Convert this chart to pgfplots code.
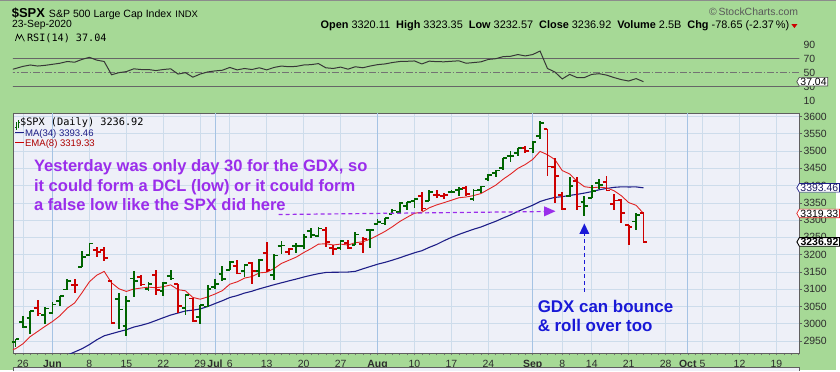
\documentclass[border=0pt]{standalone}
\usepackage{pgfplots}
\pgfplotsset{compat=1.18}
\usepackage{pgfplotstable}
\usepackage{fontspec}
\setmainfont{Liberation Sans}
\newfontfamily\legmono{DejaVu Sans Mono}
\usetikzlibrary{shapes.symbols,arrows.meta}
\usepgfplotslibrary{fillbetween}

\definecolor{bgGreen}{RGB}{166,217,150}
\definecolor{panelBg}{RGB}{238,240,248}
\definecolor{gridBlue}{RGB}{205,220,235}
\definecolor{gridMonth}{RGB}{165,195,228}
\definecolor{frameGray}{RGB}{95,95,95}
\definecolor{barGreen}{RGB}{0,100,0}
\definecolor{barRed}{RGB}{205,0,0}
\definecolor{emaRed}{RGB}{225,35,35}
\definecolor{maNavy}{RGB}{30,30,135}
\definecolor{txtPurple}{RGB}{155,45,235}
\definecolor{txtBlue}{RGB}{25,25,215}
\definecolor{rsiFill}{RGB}{163,192,158}
\definecolor{rsiLine}{RGB}{55,55,55}
\definecolor{labGray}{RGB}{45,45,45}

% day index: 0 = 26 May 2020 (trading days)
\pgfplotstableread{
d O H L C
-1 2948.05 2956.76 2933.59 2955.45
0 3004.08 3021.72 2988.17 2991.77
1 3015.65 3036.25 2969.75 3036.13
3 3025.17 3049.17 2998.61 3044.31
4 3031.79 3062.18 3031.54 3055.73
5 3064.78 3081.07 3051.64 3080.82
6 3098.90 3130.94 3098.90 3122.87
8 3163.84 3211.72 3163.84 3193.93
9 3199.92 3233.13 3196.00 3232.39
13 3071.04 3088.42 2984.47 3041.31
14 2993.76 3079.76 2965.66 3066.59
15 3131.00 3153.45 3076.06 3124.74
17 3101.64 3120.00 3093.51 3115.34
19 3094.42 3120.92 3079.39 3117.86
20 3138.70 3154.90 3127.12 3131.29
22 3046.60 3086.25 3024.01 3083.76
24 3018.59 3053.89 2999.74 3053.24
25 3050.20 3111.51 3047.83 3100.29
26 3105.92 3128.44 3101.17 3115.86
27 3143.64 3165.81 3124.52 3130.01
28 3155.29 3182.59 3155.29 3179.72
30 3153.07 3171.80 3136.53 3169.94
32 3152.47 3186.82 3136.22 3185.04
34 3141.11 3200.95 3127.66 3197.52
35 3225.98 3238.28 3200.76 3226.56
37 3224.21 3233.52 3205.65 3224.73
38 3224.29 3258.61 3215.16 3251.84
39 3268.52 3277.29 3247.77 3257.30
40 3254.86 3279.32 3253.10 3276.02
43 3219.84 3241.43 3214.25 3239.41
45 3227.22 3264.74 3227.22 3258.44
47 3270.45 3272.17 3220.26 3271.12
48 3288.26 3302.73 3284.53 3294.61
49 3289.92 3306.84 3286.37 3306.51
50 3317.37 3330.77 3317.37 3327.77
51 3323.17 3351.03 3318.14 3349.16
52 3340.05 3352.54 3328.72 3351.28
53 3356.04 3363.29 3335.44 3360.47
55 3355.46 3387.89 3355.46 3380.35
58 3380.86 3387.59 3379.22 3381.99
59 3387.04 3395.06 3370.15 3389.78
61 3360.48 3390.80 3354.69 3385.51
62 3386.01 3399.96 3379.31 3397.16
63 3418.09 3432.09 3413.13 3431.28
64 3435.95 3444.21 3425.84 3443.62
65 3449.97 3481.07 3444.15 3478.73
66 3485.14 3501.38 3468.35 3484.55
67 3494.69 3509.23 3484.32 3508.01
69 3507.44 3528.03 3494.60 3526.65
70 3543.76 3588.11 3535.23 3580.84
74 3369.82 3424.77 3366.84 3398.96
76 3352.70 3368.95 3310.47 3340.97
77 3363.56 3402.93 3363.56 3383.54
78 3407.73 3419.48 3389.25 3401.20
83 3295.75 3320.31 3270.95 3315.57
}\greenT

\pgfplotstableread{
d O H L C
2 3046.61 3068.67 3023.40 3029.73
7 3111.56 3128.91 3090.41 3112.35
10 3213.32 3222.71 3193.11 3207.18
11 3213.42 3223.27 3181.49 3190.14
12 3123.53 3123.53 2999.49 3002.10
16 3136.13 3141.16 3108.03 3113.49
18 3140.29 3155.53 3083.11 3097.74
21 3114.40 3115.01 3032.13 3050.33
23 3073.20 3073.73 3004.63 3009.05
29 3166.44 3184.15 3142.93 3145.32
31 3176.17 3179.78 3115.70 3152.05
33 3205.08 3235.32 3149.43 3155.22
36 3208.36 3220.39 3198.59 3215.57
41 3271.64 3279.99 3222.66 3235.66
42 3218.58 3227.26 3200.05 3215.63
44 3234.27 3243.72 3216.17 3218.44
46 3231.76 3250.92 3204.13 3246.22
54 3370.34 3381.01 3326.44 3333.69
56 3372.95 3387.24 3363.35 3373.43
57 3368.66 3378.51 3361.64 3372.85
60 3392.51 3399.54 3369.66 3374.85
68 3509.73 3514.77 3493.25 3500.31
71 3564.74 3564.85 3427.41 3455.06
72 3453.60 3479.15 3349.63 3426.96
73 3371.88 3379.97 3329.27 3331.84
75 3412.56 3425.55 3329.25 3339.19
79 3411.23 3428.92 3384.45 3385.49
80 3346.86 3375.17 3328.82 3357.01
81 3357.38 3362.27 3292.40 3319.47
82 3285.57 3285.57 3229.10 3281.06
84 3320.11 3323.35 3232.57 3236.92
}\redT

\pgfplotstableread{
d e
-2 2920.0
-1 2927.9
0 2942.1
1 2963.0
2 2977.8
3 2992.6
4 3006.6
5 3023.1
6 3045.3
7 3060.2
8 3089.9
9 3121.6
10 3140.6
11 3151.6
12 3118.4
13 3101.3
14 3093.6
15 3100.5
16 3103.4
17 3106.0
18 3104.2
19 3107.2
20 3112.6
21 3098.7
22 3095.4
23 3076.2
24 3071.1
25 3077.6
26 3086.1
27 3095.9
28 3114.5
29 3121.4
30 3132.2
31 3136.6
32 3147.3
33 3149.1
34 3159.9
35 3174.7
36 3183.8
37 3192.9
38 3206.0
39 3217.4
40 3230.4
41 3231.6
42 3228.0
43 3230.6
44 3227.9
45 3234.7
46 3237.2
47 3244.8
48 3255.8
49 3267.1
50 3280.6
51 3295.8
52 3308.2
53 3319.8
54 3322.9
55 3335.6
56 3344.0
57 3350.5
58 3357.5
59 3364.6
60 3366.9
61 3371.0
62 3376.9
63 3388.9
64 3401.1
65 3418.3
66 3433.0
67 3449.7
68 3461.0
69 3475.5
70 3498.9
71 3489.2
72 3475.4
73 3443.5
74 3433.6
75 3412.6
76 3396.7
77 3393.8
78 3395.4
79 3393.2
80 3385.2
81 3370.6
82 3350.7
83 3342.9
84 3319.33
}\emaT

\pgfplotstableread{
d m
5 2899.2
6 2909.2
7 2918.4
8 2927.8
9 2939.8
10 2953.7
11 2965.2
12 2971.2
13 2977.2
14 2982.7
15 2990.4
16 2995.5
17 3001.5
18 3009.4
19 3017.5
20 3025.2
21 3031.1
22 3037.1
23 3039.4
24 3043.0
25 3049.8
26 3058.5
27 3066.7
28 3076.0
29 3081.6
30 3088.9
31 3094.2
32 3101.1
33 3107.0
34 3113.0
35 3118.6
36 3124.1
37 3129.4
38 3135.2
39 3140.4
40 3144.9
41 3148.5
42 3149.1
43 3149.3
44 3149.7
45 3151.7
46 3158.9
47 3165.6
48 3172.3
49 3177.7
50 3184.0
51 3190.9
52 3198.3
53 3205.5
54 3211.4
55 3221.1
56 3229.6
57 3240.3
58 3250.0
59 3258.5
60 3266.1
61 3273.6
62 3280.0
63 3288.5
64 3296.5
65 3306.1
66 3314.9
67 3325.3
68 3334.2
69 3343.0
70 3353.8
71 3360.5
72 3365.7
73 3367.9
74 3371.5
75 3374.5
76 3378.2
77 3382.5
78 3387.8
79 3391.6
80 3394.8
81 3396.3
82 3395.9
83 3396.1
84 3393.46
}\maT

\pgfplotstableread{
d r
-2 53
-1 56
0 59
1 61
2 59.5
3 60.5
4 62
5 63.5
6 66
7 65
8 69
9 72
10 68
11 66
12 47
13 50
14 51.5
15 55.5
16 54.5
17 54.5
18 53
19 54.5
20 55.5
21 48
22 50
23 43.5
24 48
25 51
26 52.5
27 53.5
28 57.5
29 54
30 56
31 54.5
32 57
33 54
34 57.5
35 59.5
36 58.5
37 59
38 61
39 61.5
40 63
41 57
42 56
43 58
44 55
45 58.5
46 57
47 59.5
48 61.5
49 62.5
50 64.5
51 66
52 66.3
53 66.8
54 62.5
55 66.5
56 65.8
57 65.6
58 66.3
59 67
60 63.5
61 64.5
62 65.5
63 69
64 70
65 73
66 73.5
67 76
68 74
69 76
70 81
71 56
72 51
73 41
74 47.5
75 43
76 43
77 47.5
78 48.5
79 46.5
80 43
81 40
82 38
83 41.5
84 37.04
}\rsiT

\pgfdeclareplotmark{otick}{\pgfpathmoveto{\pgfpoint{-3.8pt}{0pt}}\pgfpathlineto{\pgfpoint{0pt}{0pt}}\pgfusepathqstroke}
\pgfdeclareplotmark{ctick}{\pgfpathmoveto{\pgfpoint{0pt}{0pt}}\pgfpathlineto{\pgfpoint{3.8pt}{0pt}}\pgfusepathqstroke}

\pgfplotsset{
  panel/.style={
    scale only axis, anchor=south west, width=790pt,
    xmin=-1.35, xmax=105.1,
    axis background/.style={fill=panelBg},
    axis line style={draw=frameGray, line width=0.8pt},
    xtick={0,9,14,19,24,28,33,38,43,53,58,63,73,77,82,87,92,97,102},
    extra x ticks={4,26,48,69,90},
    grid=major,
    major grid style={gridBlue, line width=0.6pt},
    extra x tick style={major grid style={gridMonth, line width=0.8pt}},
    xtick pos=bottom, ytick pos=right,
    tick align=outside,
    major tick length=3pt, minor tick length=2pt,
    major x tick style={draw=none},
    major y tick style={draw=frameGray, line width=0.6pt},
    yticklabel style={anchor=west, inner sep=0pt, xshift=1pt,
      font=\fontsize{10.5}{10.5}\selectfont, text=labGray},
  },
}

\begin{document}
\begin{tikzpicture}
\begin{scope}[x=1pt,y=1pt]
\useasboundingbox (0,0) rectangle (840,372);
\fill[bgGreen] (0,0) rectangle (840,372);
\fill[black!45] (0,370.8) rectangle (840,372);
\end{scope}

% ---------------- RSI panel ----------------
\begin{axis}[panel, at={(13pt,258pt)}, height=82pt,
  ymin=-8.57, ymax=108.57,
  ytick={10,30,50,70,90}, yticklabels={10,30,50,70,90},
  xticklabels={}, extra x tick labels={},
]
\addplot[name path=rtop, draw=none, forget plot] table[x=d, y expr={max(\thisrow{r},70)}] {\rsiT};
\addplot[name path=rseventy, draw=none, forget plot] coordinates {(-2,70) (84,70)};
\addplot[rsiFill, forget plot] fill between[of=rtop and rseventy];
\addplot[black!60, line width=0.8pt, forget plot] coordinates {(-2,70) (106,70)};
\addplot[black!60, line width=0.8pt, forget plot] coordinates {(-2,30) (106,30)};
\addplot[black!55, line width=0.8pt, dash pattern=on 7pt off 2pt on 1.5pt off 2pt, forget plot] coordinates {(-2,50) (106,50)};
\addplot[rsiLine, line width=1pt, forget plot] table[x=d, y=r] {\rsiT};
\coordinate (tRSI) at (axis cs:105.1,37.04);
\end{axis}

% ---------------- Price panel ----------------
\begin{axis}[panel, at={(13pt,17pt)}, height=241pt,
  ymin=2914.3, ymax=3608.6,
  ytick={2950,3000,...,3600},
  yticklabels={2950,3000,3050,3100,3150,3200,3250,3300,3350,3400,3450,3500,3550,3600},
  xticklabels={26,8,15,22,29,6,13,20,27,10,17,24,8,14,21,28,5,12,19},
  extra x tick labels={\textbf{Jun},\textbf{Jul},\textbf{Aug},\textbf{Sep},\textbf{Oct}},
  xticklabel style={font=\fontsize{10.5}{10.5}\selectfont, text=labGray, anchor=base, inner sep=0pt, yshift=-11pt},
  minor xtick={-1,0,...,105},
  minor x tick style={draw=black!55, line width=0.5pt},
]
\addplot[maNavy, line width=1.1pt, forget plot] table[x=d, y=m] {\maT};
\addplot[emaRed, line width=0.9pt, forget plot] table[x=d, y=e] {\emaT};
\addplot[forget plot, only marks, mark=otick, mark options={barGreen, line width=1.8pt},
  error bars/.cd, y dir=both, y explicit, error mark=none,
  error bar style={barGreen, line width=1.8pt}]
  table[x=d, y=O, y error plus expr=\thisrow{H}-\thisrow{O}, y error minus expr=\thisrow{O}-\thisrow{L}] {\greenT};
\addplot[forget plot, only marks, mark=ctick, mark options={barGreen, line width=1.8pt}] table[x=d, y=C] {\greenT};
\addplot[forget plot, only marks, mark=otick, mark options={barRed, line width=1.8pt},
  error bars/.cd, y dir=both, y explicit, error mark=none,
  error bar style={barRed, line width=1.8pt}]
  table[x=d, y=O, y error plus expr=\thisrow{H}-\thisrow{O}, y error minus expr=\thisrow{O}-\thisrow{L}] {\redT};
\addplot[forget plot, only marks, mark=ctick, mark options={barRed, line width=1.8pt}] table[x=d, y=C] {\redT};
\coordinate (tMA) at (axis cs:105.1,3393.46);
\coordinate (tEMA) at (axis cs:105.1,3319.33);
\coordinate (tC) at (axis cs:105.1,3236.92);
\end{axis}

\begin{scope}[x=1pt,y=1pt]
% bottom panel stub
\fill[panelBg] (13,-1) rectangle (803,2.6);
\draw[frameGray, line width=0.8pt] (13,-1) -- (13,2.6) -- (803,2.6) -- (803,-1);

% ---------------- value tags ----------------
\tikzset{tag/.style={signal, signal to=west, signal pointer angle=120, fill=white,
  line width=0.7pt, inner xsep=1.2pt, inner ysep=0.6pt, anchor=west,
  font=\fontsize{10.5}{10.5}\selectfont, text=black}}
\node[tag, draw=black!70] at ([xshift=-3pt]tRSI) {37.04};
\node[tag, draw=maNavy, text=maNavy!70!black] at ([xshift=-3pt]tMA) {3393.46};
\node[tag, draw=emaRed] at ([xshift=-3pt]tEMA) {3319.33};
\node[tag, draw=black, line width=0.9pt, font=\fontsize{10.5}{10.5}\selectfont\bfseries] at ([xshift=-3pt]tC) {3236.92};

% ---------------- header ----------------
\node[anchor=base west, inner sep=0pt, font=\fontsize{13}{13}\selectfont\bfseries] at (11.7,354.3) {\$SPX};
\node[anchor=base west, inner sep=0pt, font=\fontsize{10.6}{10.6}\selectfont] at (49,354.3) {S\&P 500 Large Cap Index};
\node[anchor=base west, inner sep=0pt, font=\fontsize{9.5}{9.5}\selectfont] at (176,354.3) {INDX};
\node[anchor=base west, inner sep=0pt, font=\fontsize{10.4}{10.4}\selectfont] at (12,344.7) {23-Sep-2020};
\node[anchor=base east, inner sep=0pt, font=\fontsize{10.95}{10.95}\selectfont] at (793,343.7)
  {\textbf{Open} 3320.11 \ \textbf{High} 3323.35 \ \textbf{Low} 3232.57 \ \textbf{Close} 3236.92 \ \textbf{Volume} 2.5B \ \textbf{Chg} -78.65 (-2.37\,\%)};
\fill[barRed] (795,347.8) -- (801,347.8) -- (798,343.8) -- cycle;
\node[anchor=base east, inner sep=0pt, font=\fontsize{10.5}{10.5}\selectfont, text=black!65] at (802,356.5) {\textcopyright\,StockCharts.com};

% ---------------- panel legends ----------------
\draw[black, line width=0.7pt] (15.5,331) -- (17.5,337.5) -- (19.5,333) -- (21.5,337) -- (24.5,330.5);
\node[anchor=base west, inner sep=0pt, font=\legmono\fontsize{10.2}{10.2}\selectfont] at (27,330.3) {RSI(14) 37.04};
\draw[barGreen, line width=0.8pt] (16,241.5) -- (16,249) (14.8,244) -- (16,244) (18.5,243) -- (18.5,251) (18.5,249) -- (19.7,249);
\node[anchor=base west, inner sep=0pt, font=\legmono\fontsize{10.3}{10.3}\selectfont] at (20,246) {\$SPX (Daily) 3236.92};
\draw[maNavy, line width=1.6pt] (15.5,239) -- (24,239);
\node[anchor=base west, inner sep=0pt, font=\fontsize{9.6}{9.6}\selectfont, text=maNavy] at (25,235.3) {MA(34) 3393.46};
\draw[barRed, line width=1.6pt] (15.5,228.7) -- (24,228.7);
\node[anchor=base west, inner sep=0pt, font=\fontsize{9.6}{9.6}\selectfont, text=barRed!85!black] at (25,224.7) {EMA(8) 3319.33};

% ---------------- annotations ----------------
\begin{scope}[font=\fontsize{16.6}{16.6}\selectfont\bfseries, text=txtPurple]
\node[anchor=base west, inner sep=0pt] at (34,199.5) {Yesterday was only day 30 for the GDX, so};
\node[anchor=base west, inner sep=0pt] at (34,180) {it could form a DCL (low) or it could form};
\node[anchor=base west, inner sep=0pt] at (34,160.5) {a false low like the SPX did here};
\end{scope}
\draw[txtPurple, line width=1.2pt, dash pattern=on 4pt off 3pt] (280,156.5) -- (548,159.5);
\fill[txtPurple] (558,159.8) -- (546.5,164.8) -- (546.5,154.6) -- cycle;

\begin{scope}[font=\fontsize{17}{17}\selectfont\bfseries, text=txtBlue]
\node[anchor=base west, inner sep=0pt] at (540,58) {GDX can bounce};
\node[anchor=base west, inner sep=0pt] at (540,38.7) {\& roll over too};
\end{scope}
\draw[txtBlue, line width=1.2pt, dash pattern=on 4pt off 3pt] (587,79) -- (587,138);
\fill[txtBlue] (587,147.5) -- (582,137) -- (592,137) -- cycle;
\end{scope}
\end{tikzpicture}
\end{document}
